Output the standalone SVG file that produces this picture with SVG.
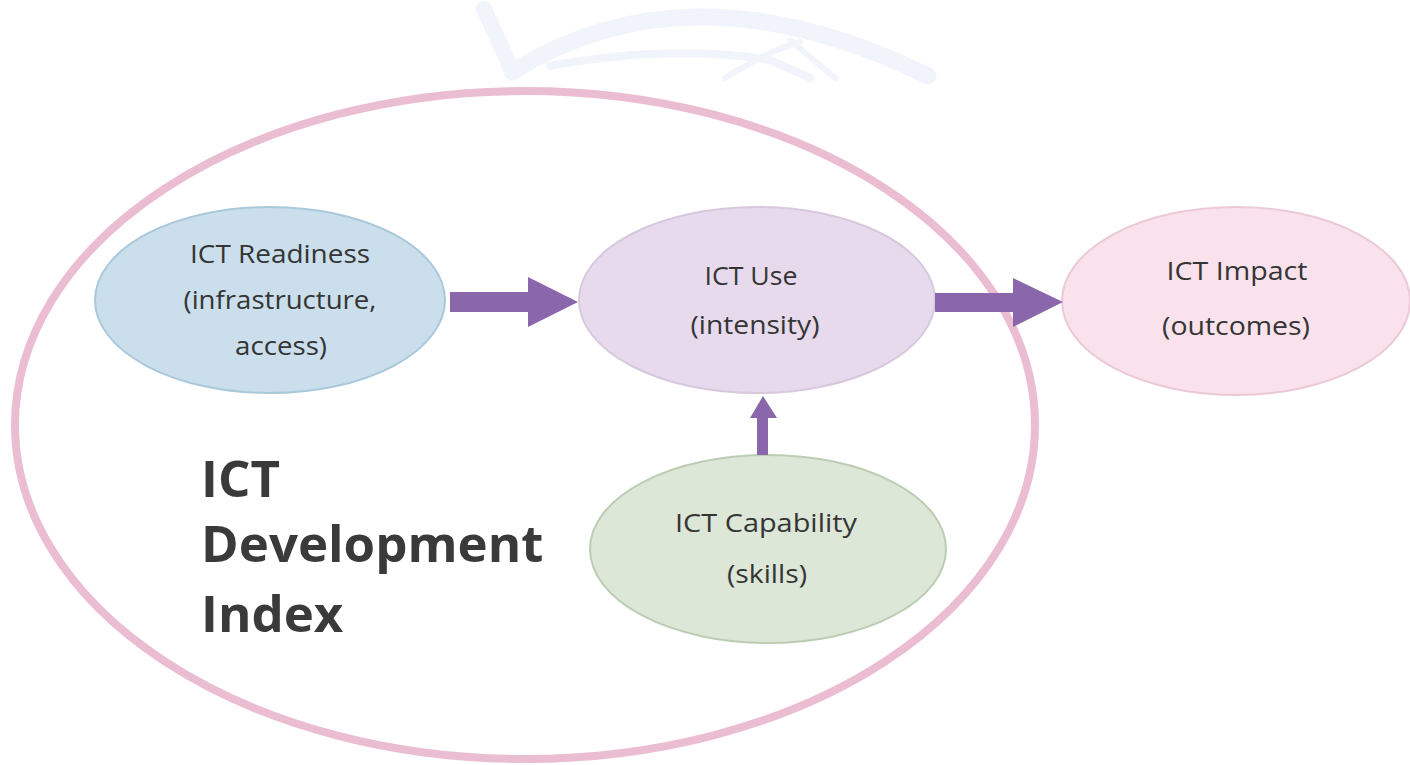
<svg xmlns="http://www.w3.org/2000/svg" width="1410" height="765" viewBox="0 0 1410 765">
<style>
.node text{font-family:"Open Sans","Liberation Sans",sans-serif;font-size:26px;fill:#353535;text-anchor:middle}
.big{font-family:"Open Sans","Liberation Sans",sans-serif;font-size:51px;font-weight:bold;fill:#3a3a3a}
.arrow{fill:#8a67aa}
</style>
<rect width="1410" height="765" fill="#ffffff"/>
<g id="watermark" fill="none" stroke="#f1f4fa" stroke-linecap="round">
<path d="M484 9 L512 70" stroke-width="16"/>
<path d="M512 72 Q690 -40 928 76" stroke-width="17"/>
<path d="M550 66 Q670 44 770 60 L810 78" stroke-width="8"/>
<path d="M725 78 Q770 50 800 42" stroke-width="6"/>
<path d="M790 40 L835 78" stroke-width="6"/>
</g>
<g id="idi-boundary">
<ellipse cx="525" cy="425" rx="510" ry="334" fill="none" stroke="#ebbdd2" stroke-width="8"/>
</g>
<g id="node-readiness" class="node">
<ellipse cx="270" cy="300" rx="175" ry="93" fill="#cadfeb" stroke="#a9c9db" stroke-width="2"/>
<text x="280" y="263" textLength="180" lengthAdjust="spacingAndGlyphs">ICT Readiness</text>
<text x="280" y="309" textLength="193" lengthAdjust="spacingAndGlyphs">(infrastructure,</text>
<text x="281" y="355" textLength="92" lengthAdjust="spacingAndGlyphs">access)</text>
</g>
<g id="node-use" class="node">
<ellipse cx="757" cy="300" rx="178" ry="93" fill="#e7daec" stroke="#d7c8de" stroke-width="2"/>
<text x="751" y="285" textLength="93" lengthAdjust="spacingAndGlyphs">ICT Use</text>
<text x="755" y="334" textLength="129" lengthAdjust="spacingAndGlyphs">(intensity)</text>
</g>
<g id="node-impact" class="node">
<ellipse cx="1236" cy="301" rx="174" ry="94" fill="#f9e2eb" stroke="#ebc9d6" stroke-width="2"/>
<text x="1237" y="280" textLength="141" lengthAdjust="spacingAndGlyphs">ICT Impact</text>
<text x="1236" y="335" textLength="148" lengthAdjust="spacingAndGlyphs">(outcomes)</text>
</g>
<g id="node-capability" class="node">
<ellipse cx="768" cy="549" rx="178" ry="94" fill="#dde7d7" stroke="#bccdb3" stroke-width="2"/>
<text x="766" y="532" textLength="182" lengthAdjust="spacingAndGlyphs">ICT Capability</text>
<text x="767" y="583" textLength="80" lengthAdjust="spacingAndGlyphs">(skills)</text>
</g>
<g id="label-idi">
<text class="big" x="201" y="497">ICT</text>
<text class="big" x="201" y="562">Development</text>
<text class="big" x="201" y="632">Index</text>
</g>
<g id="connectors">
<polygon class="arrow" points="450,292 528,292 528,277 578,302 528,327 528,312 450,312"/>
<polygon class="arrow" points="935,293 1013,293 1013,278 1063,302 1013,327 1013,312 935,312"/>
<polygon class="arrow" points="757,455 757,418 750,418 763,396 777,418 768,418 768,455"/>
</g>
</svg>
